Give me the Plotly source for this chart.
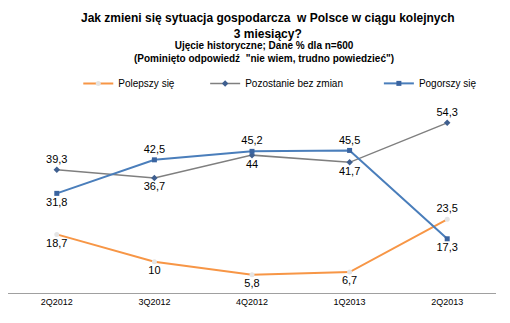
import plotly.graph_objects as go

categories = ["2Q2012", "3Q2012", "4Q2012", "1Q2013", "2Q2013"]
polepszy = [18.7, 10, 5.8, 6.7, 23.5]
bez_zmian = [39.3, 36.7, 44, 41.7, 54.3]
pogorszy = [31.8, 42.5, 45.2, 45.5, 17.3]

pos_polepszy = ["bottom center"] * 4 + ["top center"]
pos_bez = ["top center", "bottom center", "bottom center", "bottom center", "top center"]
pos_pog = ["bottom center", "top center", "top center", "top center", "bottom center"]

def fmt(v):
    return ("%g" % v).replace(".", ",")

FONT = "Liberation Sans, Arial, sans-serif"

fig = go.Figure()
fig.add_trace(go.Scatter(
    x=categories, y=polepszy, name="Polepszy się", mode="lines+markers+text",
    line=dict(color="#F79646", width=2),
    marker=dict(color="#e4e4e4", size=5, symbol="circle"),
    text=[fmt(v) for v in polepszy], textposition=pos_polepszy,
    textfont=dict(size=11, color="#000", family=FONT), legend="legend"))
fig.add_trace(go.Scatter(
    x=categories, y=bez_zmian, name="Pozostanie bez zmian", mode="lines+markers+text",
    line=dict(color="#7F7F7F", width=1.5),
    marker=dict(color="#3F5F8F", size=5, symbol="diamond"),
    text=[fmt(v) for v in bez_zmian], textposition=pos_bez,
    textfont=dict(size=11, color="#000", family=FONT), legend="legend2"))
fig.add_trace(go.Scatter(
    x=categories, y=pogorszy, name="Pogorszy się", mode="lines+markers+text",
    line=dict(color="#4A7EBB", width=2),
    marker=dict(color="#3A64A0", size=5, symbol="square"),
    text=[fmt(v) for v in pogorszy], textposition=pos_pog,
    textfont=dict(size=11, color="#000", family=FONT), legend="legend3"))

leg_common = dict(orientation="h", yanchor="middle", y=1.115, xanchor="left",
                  font=dict(size=10, family=FONT, color="#000"),
                  bgcolor="rgba(0,0,0,0)", itemwidth=30, tracegroupgap=0)
fig.update_layout(
    width=510, height=323,
    margin=dict(l=8, r=14, t=105, b=30),
    paper_bgcolor="white", plot_bgcolor="white",
    showlegend=True,
    legend=dict(leg_common, x=0.144),
    legend2=dict(leg_common, x=0.404),
    legend3=dict(leg_common, x=0.76),
    xaxis=dict(type="category", range=[-0.5, 4.5], showgrid=False, showline=True,
               linecolor="#A0A0A0", linewidth=1, ticks="",
               tickfont=dict(size=9, family=FONT, color="#000")),
    yaxis=dict(range=[0, 60], visible=False, showgrid=False),
    annotations=[
        dict(text="<b>Jak zmieni się sytuacja gospodarcza  w Polsce w ciągu kolejnych<br>3 miesiący?</b>",
             xref="paper", yref="paper", x=0.531, y=1.0, xanchor="center", yanchor="bottom",
             yshift=62, showarrow=False, font=dict(size=12, family=FONT, color="#000")),
        dict(text="<b>Ujęcie historyczne; Dane % dla n=600<br>(Pominięto odpowiedź  \"nie wiem, trudno powiedzieć\")</b>",
             xref="paper", yref="paper", x=0.525, y=1.0, xanchor="center", yanchor="bottom",
             yshift=39, showarrow=False, font=dict(size=10, family=FONT, color="#000")),
    ],
)
fig.write_html("out.html")
